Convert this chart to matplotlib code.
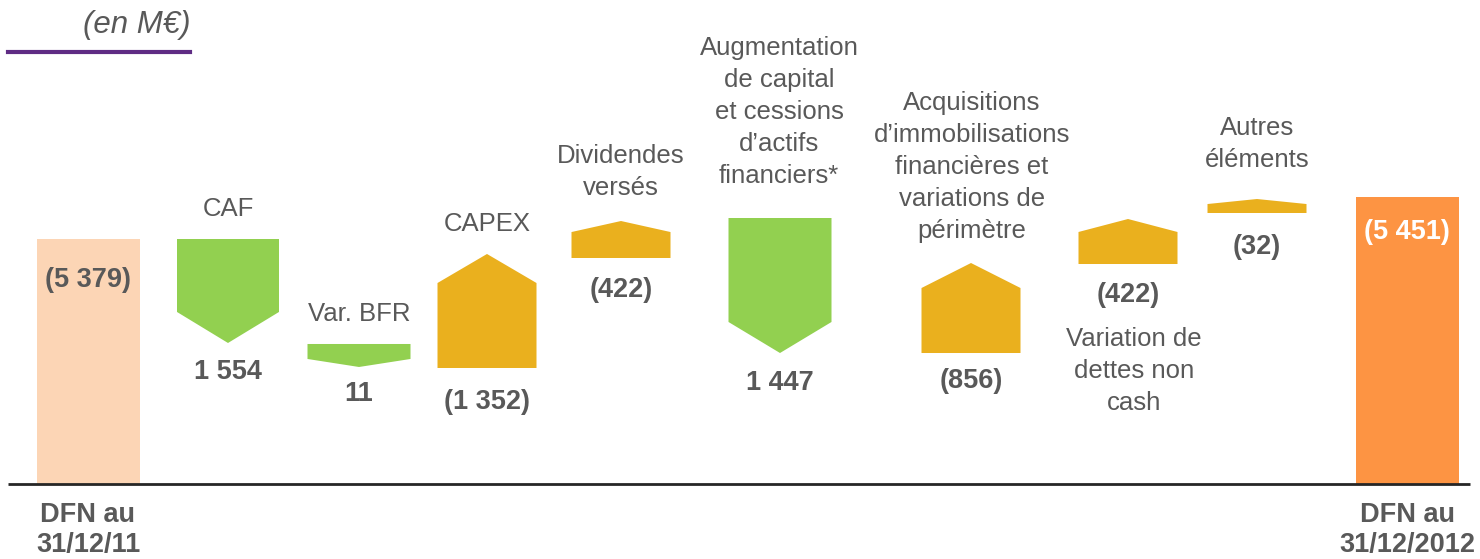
import matplotlib
matplotlib.use("Agg")
import matplotlib.pyplot as plt
from matplotlib.patches import Polygon, Rectangle

plt.rcParams['font.family'] = ['Liberation Sans', 'DejaVu Sans']

# ---------------- data ----------------
categories = ["DFN au\n31/12/11", "CAF", "Var. BFR", "CAPEX", "Dividendes\nversés",
              "Augmentation\nde capital\net cessions\nd\u2019actifs\nfinanciers*",
              "Acquisitions\nd\u2019immobilisations\nfinancières et\nvariations de\npérimètre",
              "Variation de\ndettes non\ncash", "Autres\néléments", "DFN au\n31/12/2012"]
values = [-5379, 1554, 11, -1352, -422, 1447, -856, -422, -32, -5451]
kinds = ["total", "down", "down", "up", "up", "down", "up", "up", "up", "total"]
# stylised (not-to-scale) visual levels of each shape, M€ scale
vis_start = [0, 5379, 3074, 2547, 4962, 5840, 2876, 4830, 5950, 0]
vis_end = [5379, 3096, 2569, 5050, 5774, 2876, 4852, 5818, 6257, 6301]
head = [0, 681, 176, 637, 242, 681, 549, 285, 110, 0]

# ---------------- layout ----------------
W, H = 1480, 559
k = 5379 / 245.0          # value units per pixel
base_px = 484             # baseline pixel row
centers = [88, 228, 359, 487, 621, 780, 971, 1128, 1257, 1407]
widths = [103, 102, 103, 99, 99, 103, 99, 99, 99, 103]
colors = {"total_start": "#FCD5B5", "down": "#92D050", "up": "#EAB01E",
          "total_end": "#FD9443"}
grey = "#595959"

fig = plt.figure(figsize=(W / 100, H / 100), dpi=100)
ax = fig.add_axes([0, 0, 1, 1])
ax.set_xlim(0, W)
ax.set_ylim(-(H - base_px) * k, base_px * k)
ax.axis("off")

for i, (c, w, kind) in enumerate(zip(centers, widths, kinds)):
    s, e, h = vis_start[i], vis_end[i], head[i]
    if kind == "total":
        col = colors["total_start"] if i == 0 else colors["total_end"]
        ax.add_patch(Rectangle((c - w / 2, s), w, e - s, facecolor=col, edgecolor="none"))
    else:
        col = colors[kind]
        sign = 1 if e > s else -1
        sh = e - sign * h
        pts = [(c - w / 2, s), (c + w / 2, s), (c + w / 2, sh), (c, e), (c - w / 2, sh)]
        ax.add_patch(Polygon(pts, closed=True, facecolor=col, edgecolor="none"))

ax.plot([8, 1470], [0, 0], color="#262626", lw=2, solid_capstyle="butt")


def fmt(v):
    s = f"{abs(v):,}".replace(",", " ")
    return f"({s})" if v < 0 else s


def ptext(x, y, s, size=18.5, bold=False, color=grey, style="normal", ls=1.41, va="center"):
    fig.text(x / W, 1 - y / H, s, ha="center", va=va, fontsize=size,
             fontweight="bold" if bold else "normal", color=color, style=style,
             linespacing=ls, multialignment="center")

# title and purple rule
ptext(137, 25, "(en M\u20ac)", size=22.5, style="italic")
fig.add_artist(plt.Line2D([8 / W, 190 / W], [1 - 52 / H, 1 - 52 / H], color="#5F2C84", lw=3))

# category labels (center pixel positions)
cat_pos = [(88, 530), (228, 209), (359, 314), (487, 224), (621, 172),
           (779, 112), (972, 167), (1134, 371), (1257, 144), (1407, 530)]
for i, (cat, (x, y)) in enumerate(zip(categories, cat_pos)):
    bold = kinds[i] == "total"
    ptext(x, y, cat, size=18.5 if not bold else 19.5, bold=bold,
          ls=1.41 if not bold else 1.24)

# value labels
val_pos = [(88, 280), (228, 372), (359, 394), (487, 402), (621, 290),
           (780, 383), (971, 381), (1128, 295), (1257, 247), (1407, 232)]
for i, (v, (x, y)) in enumerate(zip(values, val_pos)):
    col = "white" if i == len(values) - 1 else grey
    ptext(x, y, fmt(v), size=19.5, bold=True, color=col)

fig.savefig("out.png", dpi=100)
